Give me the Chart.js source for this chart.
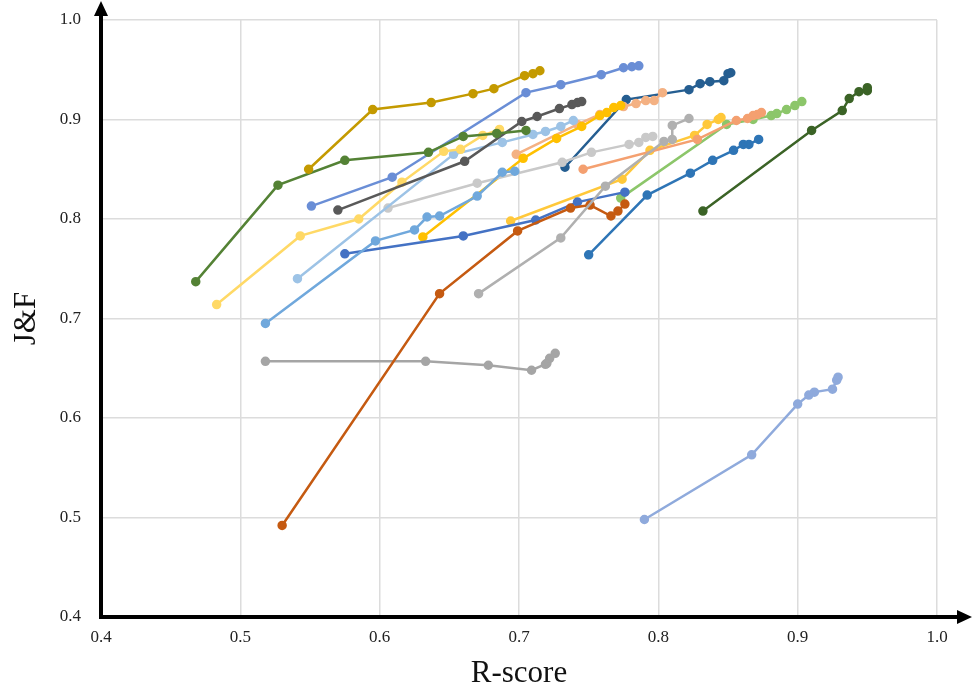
<!DOCTYPE html>
<html>
<head>
<meta charset="utf-8">
<script src="https://cdn.jsdelivr.net/npm/chart.js@4"></script>
<style>
  html, body { margin: 0; padding: 0; background: #fff; }
  #wrap { width: 973px; height: 692px; }
</style>
</head>
<body>
<div id="wrap"><canvas id="scoreChart"></canvas></div>
<script>
// axis ticks
const xTicks = [0.4, 0.5, 0.6, 0.7, 0.8, 0.9, 1.0];
const yTicks = [0.4, 0.5, 0.6, 0.7, 0.8, 0.9, 1.0];

// one pair of arrays per curve: R-score (x) and J&F (y)
const goldR = [0.549, 0.595, 0.637, 0.667, 0.682, 0.704, 0.710, 0.715];
const goldJF = [0.850, 0.910, 0.917, 0.926, 0.931, 0.944, 0.946, 0.949];

const greenR = [0.468, 0.527, 0.575, 0.635, 0.660, 0.684, 0.705];
const greenJF = [0.737, 0.834, 0.859, 0.867, 0.883, 0.886, 0.889];

const blueTopR = [0.551, 0.609, 0.705, 0.730, 0.759, 0.775, 0.781, 0.786];
const blueTopJF = [0.813, 0.842, 0.927, 0.935, 0.945, 0.952, 0.953, 0.954];

const darkGrayR = [0.570, 0.661, 0.702, 0.713, 0.729, 0.738, 0.742, 0.745];
const darkGrayJF = [0.809, 0.858, 0.898, 0.903, 0.911, 0.915, 0.917, 0.918];

const paleYellowR = [0.483, 0.543, 0.585, 0.616, 0.646, 0.658, 0.674, 0.686];
const paleYellowJF = [0.714, 0.783, 0.800, 0.837, 0.868, 0.870, 0.884, 0.890];

const paleBlueR = [0.541, 0.653, 0.688, 0.710, 0.719, 0.730, 0.739];
const paleBlueJF = [0.740, 0.865, 0.877, 0.885, 0.888, 0.893, 0.899];

const skyBlueR = [0.518, 0.597, 0.625, 0.634, 0.643, 0.670, 0.688, 0.697];
const skyBlueJF = [0.695, 0.778, 0.789, 0.802, 0.803, 0.823, 0.847, 0.848];

const lightGrayR = [0.606, 0.670, 0.731, 0.752, 0.779, 0.786, 0.791, 0.796];
const lightGrayJF = [0.811, 0.836, 0.857, 0.867, 0.875, 0.877, 0.882, 0.883];

const midGrayR = [0.671, 0.730, 0.762, 0.804, 0.810, 0.810, 0.822];
const midGrayJF = [0.725, 0.781, 0.833, 0.878, 0.880, 0.894, 0.901];

const rustR = [0.530, 0.643, 0.699, 0.737, 0.751, 0.766, 0.771, 0.776];
const rustJF = [0.492, 0.725, 0.788, 0.811, 0.814, 0.803, 0.808, 0.815];

const royalR = [0.575, 0.660, 0.712, 0.742, 0.776];
const royalJF = [0.765, 0.783, 0.799, 0.817, 0.827];

const amberR = [0.631, 0.703, 0.727, 0.745, 0.758, 0.763, 0.768, 0.773];
const amberJF = [0.782, 0.861, 0.881, 0.893, 0.904, 0.907, 0.912, 0.914];

const peachR = [0.698, 0.742, 0.758, 0.775, 0.784, 0.791, 0.797, 0.803];
const peachJF = [0.865, 0.895, 0.905, 0.913, 0.916, 0.919, 0.919, 0.927];

const navyR = [0.733, 0.777, 0.822, 0.830, 0.837, 0.847, 0.850, 0.852];
const navyJF = [0.852, 0.920, 0.930, 0.936, 0.938, 0.939, 0.946, 0.947];

const coralR = [0.746, 0.828, 0.856, 0.864, 0.868, 0.871, 0.874];
const coralJF = [0.850, 0.880, 0.899, 0.901, 0.904, 0.905, 0.907];

const goldLowR = [0.694, 0.774, 0.794, 0.826, 0.835, 0.843, 0.845];
const goldLowJF = [0.798, 0.840, 0.869, 0.884, 0.895, 0.900, 0.902];

const limeR = [0.773, 0.849, 0.868, 0.881, 0.885, 0.892, 0.898, 0.903];
const limeJF = [0.821, 0.895, 0.900, 0.904, 0.906, 0.910, 0.914, 0.918];

const steelR = [0.750, 0.792, 0.823, 0.839, 0.854, 0.861, 0.865, 0.872];
const steelJF = [0.764, 0.824, 0.846, 0.859, 0.869, 0.875, 0.875, 0.880];

const forestR = [0.832, 0.910, 0.932, 0.937, 0.944, 0.950, 0.950];
const forestJF = [0.808, 0.889, 0.909, 0.921, 0.928, 0.929, 0.932];

const flatGrayR = [0.518, 0.633, 0.678, 0.709, 0.719, 0.720, 0.722, 0.726];
const flatGrayJF = [0.657, 0.657, 0.653, 0.648, 0.654, 0.655, 0.660, 0.665];

const lavenderR = [0.790, 0.867, 0.900, 0.908, 0.912, 0.925, 0.928, 0.929];
const lavenderJF = [0.498, 0.563, 0.614, 0.623, 0.626, 0.629, 0.638, 0.641];

const curves = [
  [goldR, goldJF, '#C49A00'],
  [greenR, greenJF, '#548235'],
  [blueTopR, blueTopJF, '#6A8ED6'],
  [darkGrayR, darkGrayJF, '#595959'],
  [paleYellowR, paleYellowJF, '#FFD966'],
  [paleBlueR, paleBlueJF, '#9DC3E6'],
  [skyBlueR, skyBlueJF, '#70A8DC'],
  [lightGrayR, lightGrayJF, '#C9C9C9'],
  [midGrayR, midGrayJF, '#B0B0B0'],
  [rustR, rustJF, '#C55A11'],
  [royalR, royalJF, '#4472C4'],
  [amberR, amberJF, '#FFC000'],
  [peachR, peachJF, '#F4B183'],
  [navyR, navyJF, '#255E91'],
  [coralR, coralJF, '#F4A070'],
  [goldLowR, goldLowJF, '#FFC83A'],
  [limeR, limeJF, '#8CC66A'],
  [steelR, steelJF, '#2E75B6'],
  [forestR, forestJF, '#3B6326'],
  [flatGrayR, flatGrayJF, '#A5A5A5'],
  [lavenderR, lavenderJF, '#8FAADC']
];

const datasets = curves.map(([xs, ys, color]) => ({
  data: xs.map((x, i) => ({ x: x, y: ys[i] })),
  showLine: true,
  borderColor: color,
  backgroundColor: color,
  borderWidth: 2.5,
  pointRadius: 3.5,
  pointHoverRadius: 3.5
}));

// thick black axes with arrow heads
const arrowAxes = {
  id: 'arrowAxes',
  afterDraw(chart) {
    const { ctx, chartArea: a } = chart;
    ctx.save();
    ctx.strokeStyle = '#000';
    ctx.fillStyle = '#000';
    ctx.lineWidth = 4;
    ctx.beginPath();
    ctx.moveTo(a.left, a.bottom + 2);
    ctx.lineTo(a.left, 12);
    ctx.moveTo(a.left - 2, a.bottom);
    ctx.lineTo(chart.width - 12, a.bottom);
    ctx.stroke();
    ctx.beginPath();
    ctx.moveTo(a.left, 1);
    ctx.lineTo(a.left - 7, 16);
    ctx.lineTo(a.left + 7, 16);
    ctx.closePath();
    ctx.fill();
    ctx.beginPath();
    ctx.moveTo(chart.width - 1, a.bottom);
    ctx.lineTo(chart.width - 16, a.bottom - 7);
    ctx.lineTo(chart.width - 16, a.bottom + 7);
    ctx.closePath();
    ctx.fill();
    ctx.restore();
  }
};

const serif = 'Liberation Serif';

new Chart(document.getElementById('scoreChart'), {
  type: 'scatter',
  data: { datasets: datasets },
  options: {
    responsive: true,
    maintainAspectRatio: false,
    animation: false,
    events: [],
    layout: { padding: { top: 20, right: 36, left: 0, bottom: 0 } },
    plugins: {
      legend: { display: false },
      tooltip: { enabled: false }
    },
    scales: {
      x: {
        type: 'linear',
        min: 0.4,
        max: 1.0,
        afterBuildTicks: s => { s.ticks = xTicks.map(v => ({ value: v })); },
        afterFit: s => { s.height = 75; s.paddingLeft = 0; s.paddingRight = 0; },
        grid: { color: '#DCDCDC', lineWidth: 1.5, drawTicks: false },
        border: { display: false },
        ticks: {
          padding: 10,
          color: '#222',
          font: { family: serif, size: 17 },
          callback: v => v.toFixed(1)
        },
        title: {
          display: true,
          text: 'R-score',
          color: '#111',
          padding: { top: 0, bottom: 0 },
          font: { family: serif, size: 31 }
        }
      },
      y: {
        type: 'linear',
        min: 0.4,
        max: 1.0,
        afterBuildTicks: s => { s.ticks = yTicks.map(v => ({ value: v })); },
        afterFit: s => { s.width = 101; s.paddingTop = 0; s.paddingBottom = 0; },
        grid: { color: '#DCDCDC', lineWidth: 1.5, drawTicks: false },
        border: { display: false },
        ticks: {
          padding: 20,
          color: '#222',
          font: { family: serif, size: 17 },
          callback: v => v.toFixed(1)
        },
        title: {
          display: true,
          text: 'J&F',
          color: '#111',
          padding: { top: 8, bottom: 0 },
          font: { family: serif, size: 31 }
        }
      }
    }
  },
  plugins: [arrowAxes]
});
</script>
</body>
</html>
